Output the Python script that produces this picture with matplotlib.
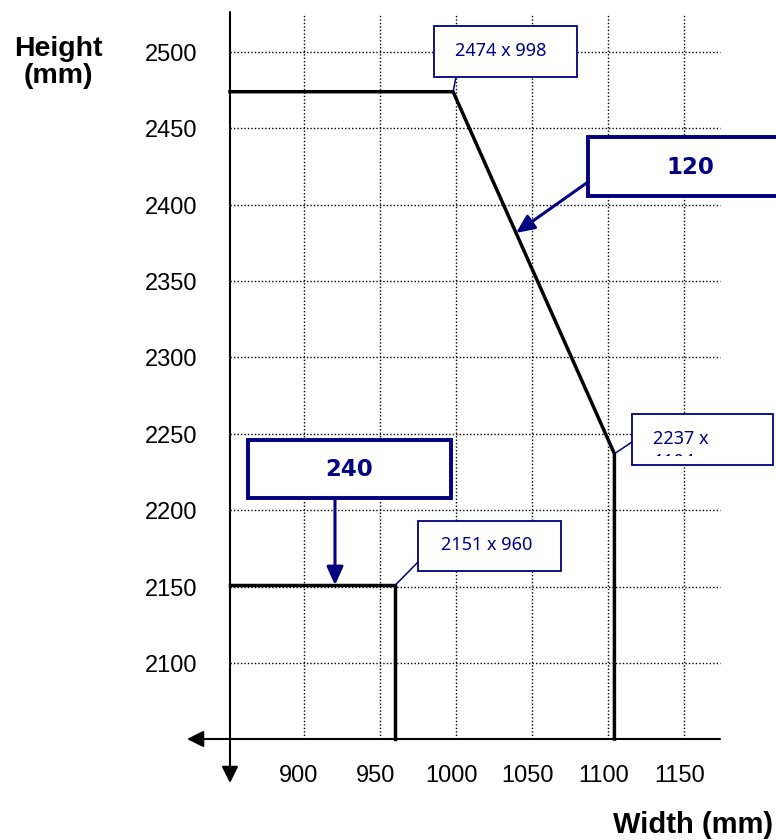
import matplotlib
matplotlib.use('Agg')
import matplotlib.pyplot as plt
from matplotlib.patches import Rectangle

# ---------------- data ----------------
x_ticks = [900, 950, 1000, 1050, 1100, 1150]
y_ticks = [2100, 2150, 2200, 2250, 2300, 2350, 2400, 2450, 2500]
series_names = ['120', '240']
s120_width = [998, 1104]
s120_height = [2474, 2237]
s240_width = [960]
s240_height = [2151]
point_labels = ['2474 x 998', '2237 x 1104', '2151 x 960']
x_label = 'Width (mm)'
y_label = 'Height\n(mm)'

# ---------------- layout ----------------
W, H = 776, 840
NAVY = '#000080'
fig = plt.figure(figsize=(W / 100, H / 100), dpi=100)
ax = fig.add_axes([0, 0, 1, 1])
ax.set_axis_off()

GX0, GX_PX, SX = 900, 304, 1.5216
GY0, GY_PX, SY = 2500, 52, 1.5275
ax.set_xlim(GX0 - GX_PX / SX, GX0 + (W - GX_PX) / SX)
ax.set_ylim(GY0 - (H - GY_PX) / SY, GY0 + GY_PX / SY)


def dx(px):
    return GX0 + (px - GX_PX) / SX


def dy(py):
    return GY0 - (py - GY_PX) / SY


x_org, y_org = dx(230), dy(739)

# grid
grid_kw = dict(color='black', lw=1.0, ls=(0, (1, 1.5)), zorder=1)
for xv in x_ticks:
    ax.plot([xv, xv], [y_org, dy(14)], **grid_kw)
for yv in y_ticks:
    ax.plot([x_org, dx(720)], [yv, yv], **grid_kw)

# axes with arrows
ax_arrow = dict(arrowstyle='-|>,head_length=1.0,head_width=0.5', mutation_scale=10,
                color='black', lw=1.5, shrinkA=0, shrinkB=0)
ax.annotate('', xy=(x_org, dy(783)), xytext=(x_org, dy(12)), arrowprops=ax_arrow, zorder=2)
ax.annotate('', xy=(dx(187), y_org), xytext=(dx(720), y_org), arrowprops=ax_arrow, zorder=2)

# tick labels
tick_font = dict(family='Liberation Sans', fontsize=17, color='black')
for xv in x_ticks:
    ax.text(xv - 5 / SX, dy(782), str(xv), ha='center', va='baseline', **tick_font)
for yv in y_ticks:
    ax.text(dx(197), yv - 9 / SY, str(yv), ha='right', va='baseline', **tick_font)

# axis titles
ax.text(dx(58), dy(83), y_label, ha='center', va='baseline', fontsize=20.5,
        family='Liberation Sans', fontweight='bold', linespacing=1.05)
ax.text(dx(613), dy(833), x_label, ha='left', va='baseline', fontsize=21,
        family='Liberation Sans', fontweight='bold')

# data lines
line_kw = dict(color='black', lw=2.5, solid_joinstyle='miter', zorder=3)
ax.plot([x_org] + s120_width + [s120_width[-1]],
        [s120_height[0]] + s120_height + [y_org], **line_kw)
ax.plot([x_org, s240_width[0], s240_width[0]],
        [s240_height[0], s240_height[0], y_org], **line_kw)


def box(x0, y0, x1, y1, lw):
    r = Rectangle((dx(x0), dy(y1)), dx(x1) - dx(x0), dy(y0) - dy(y1),
                  facecolor='white', edgecolor=NAVY, lw=lw, zorder=5)
    ax.add_patch(r)


small_font = dict(family='Noto Sans', fontsize=13, color=NAVY, zorder=6)
big_font = dict(family='DejaVu Sans', fontsize=16.5, fontweight='bold', color=NAVY, zorder=6)
leader = dict(arrowstyle='-', color=NAVY, lw=1.1, shrinkA=0, shrinkB=0)
big_arrow = dict(arrowstyle='-|>,head_length=1.1,head_width=0.5', mutation_scale=10,
                 color=NAVY, lw=2.2, shrinkA=0, shrinkB=0)

# point label boxes
box(434, 26, 577, 77, 1.3)
ax.text(dx(501), dy(51), point_labels[0], ha='center', va='center', **small_font)
ax.annotate('', xy=(s120_width[0], s120_height[0]), xytext=(dx(456), dy(77)),
            arrowprops=leader, zorder=4)

box(418, 521, 561, 571, 1.3)
ax.text(dx(487), dy(545), point_labels[2], ha='center', va='center', **small_font)
ax.annotate('', xy=(s240_width[0], s240_height[0]), xytext=(dx(418), dy(562)),
            arrowprops=leader, zorder=4)

box(632, 414, 773, 465, 1.3)
first, second = point_labels[1].rsplit(' ', 1)
ax.text(dx(653), dy(444), first, ha='left', va='baseline', **small_font)
t2 = ax.text(dx(653), dy(467), second, ha='left', va='baseline', clip_on=True, **small_font)
t2.set_clip_path(Rectangle((dx(633), dy(456)), dx(772) - dx(633), dy(415) - dy(456),
                           transform=ax.transData))
ax.annotate('', xy=(s120_width[1], s120_height[1]), xytext=(dx(632), dy(442)),
            arrowprops=leader, zorder=4)

# series label boxes
box(588, 137, 800, 196, 2.8)
ax.text(dx(690), dy(168), series_names[0], ha='center', va='center', **big_font)
tfrac = 0.39
tip = (s120_width[0] + tfrac * (s120_width[1] - s120_width[0]),
       s120_height[0] + tfrac * (s120_height[1] - s120_height[0]))
ax.annotate('', xy=tip, xytext=(dx(588), dy(182)), arrowprops=big_arrow, zorder=6)

box(248, 440, 451, 498, 2.8)
ax.text(dx(349), dy(470), series_names[1], ha='center', va='center', **big_font)
ax.annotate('', xy=(dx(335), s240_height[0]), xytext=(dx(335), dy(499)),
            arrowprops=big_arrow, zorder=6)

fig.savefig('out.png', dpi=100)
